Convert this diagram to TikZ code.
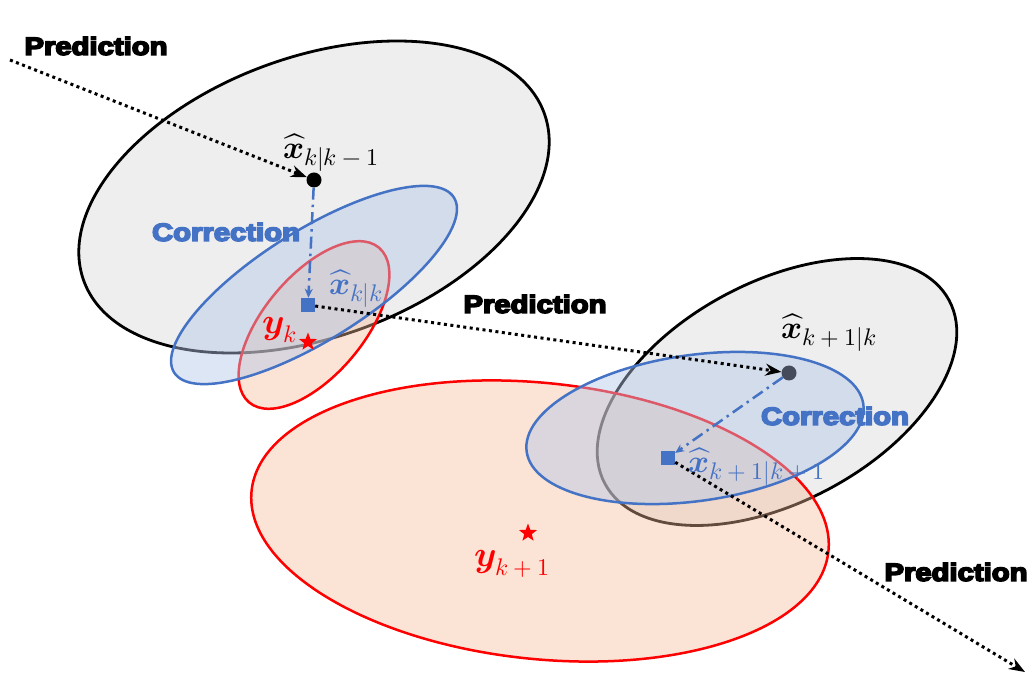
\documentclass[tikz,border=0pt]{standalone}
\usepackage{graphicx}
\usepackage{fontspec}
\usepackage{unicode-math}
\setmathfont{Latin Modern Math}
\usetikzlibrary{arrows.meta,shapes.geometric}
\newfontfamily\heavyfont{Liberation Sans Bold}[FakeBold=6]
\definecolor{gfill}{HTML}{EEEEEE}
\definecolor{bstroke}{HTML}{4472C4}
\definecolor{bfill}{HTML}{B4C7E7}
\definecolor{rfill}{HTML}{F5B996}
\definecolor{dotgray}{HTML}{454B5A}
\newcommand{\heavytext}[1]{\scalebox{1.17}[1]{\heavyfont #1}}
\newcommand{\mysub}[1]{\hbox{\fontsize{24}{28}\selectfont$#1$}}
\begin{document}
\begin{tikzpicture}[x=1pt,y=1pt,
  grayell/.style={draw=black, line width=2.8pt, fill=gfill},
  redell/.style={draw=red, line width=2.5pt, fill=rfill, fill opacity=0.4},
  blueell/.style={draw=bstroke, line width=2.5pt, fill=bfill, fill opacity=0.45},
  predarrow/.style={draw=black, line width=3pt, dash pattern=on 3pt off 3.5pt, -{Stealth[length=16pt,width=12pt]}},
  corrarrow/.style={draw=bstroke, line width=2.5pt, dash pattern=on 12pt off 5pt on 2.5pt off 5pt, -{Stealth[length=9pt,width=8pt]}},
  predlabel/.style={text=black, font=\fontsize{25}{30}\selectfont, inner sep=0},
  corrlabel/.style={text=bstroke, font=\fontsize{25}{30}\selectfont, inner sep=0},
  mathlabel/.style={font=\fontsize{32}{38}\selectfont, inner sep=0},
  pointdot/.style={circle, minimum size=15pt, inner sep=0},
  pointsq/.style={rectangle, fill=bstroke, minimum size=14pt, inner sep=0},
  pointstar/.style={star, star points=5, star point ratio=2.4, fill=red, minimum size=19pt, inner sep=0}
]
\useasboundingbox (0,0) rectangle (1035,680);

% ellipses (bottom layer: gray)
\draw[grayell, rotate around={20:(314,483)}] (314,483) ellipse [x radius=245pt, y radius=140pt];
\draw[grayell, rotate around={28:(777,288)}] (777,288) ellipse [x radius=195pt, y radius=110pt];
% red
\draw[redell, rotate around={50:(314,355)}] (314,355) ellipse [x radius=101pt, y radius=50pt];
\draw[redell, rotate around={-6:(540,159)}] (540,159) ellipse [x radius=290pt, y radius=138pt];
% blue
\draw[blueell, rotate around={32:(314,395)}] (314,395) ellipse [x radius=165pt, y radius=55pt];
\draw[blueell, rotate around={8:(695,252)}] (695,252) ellipse [x radius=170pt, y radius=73pt];

% points
\node[pointdot, fill=black] (dot1) at (314,500) {};
\node[pointsq] (sq1) at (308,375) {};
\node[pointstar] (star1) at (308,338) {};
\node[pointdot, fill=dotgray] (dot2) at (789,307) {};
\node[pointsq] (sq2) at (668,222) {};
\node[pointstar] (star2) at (528,147) {};
\coordinate (p1) at (10,620);
\coordinate (p3) at (1025,8);

% connectors
\draw[predarrow] (p1) -- (dot1);
\draw[corrarrow] (dot1) -- (sq1);
\draw[predarrow] (sq1) -- (dot2);
\draw[corrarrow] (dot2) -- (sq2);
\draw[predarrow] (sq2) -- (p3);

% labels
\node[predlabel] (pr1) at (96,634) {\heavytext{Prediction}};
\node[predlabel] (pr2) at (535,376) {\heavytext{Prediction}};
\node[predlabel] (pr3) at (956,108) {\heavytext{Prediction}};
\node[corrlabel] (co1) at (226,448) {\heavytext{Correction}};
\node[corrlabel] (co2) at (835,264) {\heavytext{Correction}};

\node[mathlabel, text=black] (lx1) at (331,527) {$\widehat{\symbfit{x}}_{\mysub{k|k-1}}$};
\node[mathlabel, text=bstroke] (lx2) at (356,391) {$\widehat{\symbfit{x}}_{\mysub{k|k}}$};
\node[mathlabel, text=red, font=\fontsize{36}{40}\selectfont] (ly1) at (280,350) {$\symbfit{y}_{\mysub{k}}$};
\node[mathlabel, text=black] (lx3) at (829,347) {$\widehat{\symbfit{x}}_{\mysub{k+1|k}}$};
\node[mathlabel, text=bstroke] (lx4) at (757,213) {$\widehat{\symbfit{x}}_{\mysub{k+1|k+1}}$};
\node[mathlabel, text=red, font=\fontsize{36}{40}\selectfont] (ly2) at (512,116) {$\symbfit{y}_{\mysub{k+1}}$};
\end{tikzpicture}
\end{document}
